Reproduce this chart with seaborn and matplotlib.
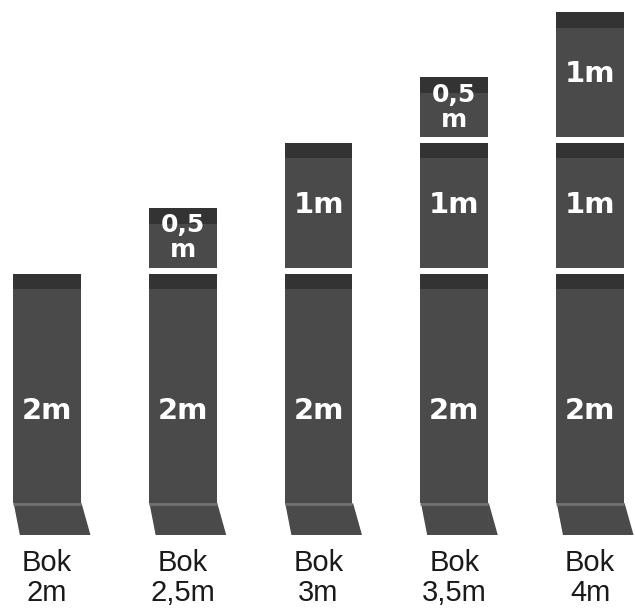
import matplotlib.pyplot as plt
import numpy as np
import seaborn as sns
from matplotlib.patches import Polygon

# --- data: panel stacks per column (metres) ---
labels = ["Bok\n2m", "Bok\n2,5m", "Bok\n3m", "Bok\n3,5m", "Bok\n4m"]
base_m = [2, 2, 2, 2, 2]
mid_m = [0, 0.5, 1, 1, 1]
top_m = [0, 0, 0, 0.5, 1]

BODY = "#4a4a4a"
BAND = "#333333"
GAP = 0.045
BAND_H = 0.12
WIDTH = 0.5
FOOT_H = 0.24


def seg_label(v):
    if v == 0.5:
        return "0,5\nm", 18
    return f"{v:g}m", 21


sns.set_theme(style="white")
plt.rcParams["font.family"] = ["Liberation Sans", "DejaVu Sans"]

fig = plt.figure(figsize=(6.35, 6.09), dpi=100)
ax = fig.add_axes([0, 74 / 609, 1, 523 / 609])

# base 2m panels through seaborn, upper panels stacked on top
sns.barplot(x=labels, y=base_m, color=BODY, saturation=1, width=WIDTH, ax=ax,
            linewidth=0, zorder=2)
x = np.arange(len(labels))
bottom = np.array(base_m, dtype=float)
for layer in (mid_m, top_m):
    vals = np.array(layer, dtype=float)
    mask = vals > 0
    ax.bar(x[mask], vals[mask] - GAP, bottom=bottom[mask] + GAP, width=WIDTH,
           color=BODY, linewidth=0, zorder=2)
    bottom = bottom + vals

# dark strip at the top of every panel + labels
for i in range(len(labels)):
    cum = 0.0
    for j, v in enumerate([base_m[i], mid_m[i], top_m[i]]):
        if v <= 0:
            continue
        lo = cum + (GAP if j > 0 else 0)
        hi = cum + v
        ax.bar(x[i], BAND_H, bottom=hi - BAND_H, width=WIDTH, color=BAND,
               linewidth=0, zorder=3)
        txt, fs = seg_label(v)
        ax.text(x[i], (lo + hi) / 2 - (0.0 if j else 0.05), txt, ha="center", va="center",
                color="white", fontsize=fs, fontweight="bold", family="DejaVu Sans",
                linespacing=1.05, zorder=4)
        cum += v

    # slanted foot of the base panel
    x0, x1 = x[i] - WIDTH / 2, x[i] + WIDTH / 2
    ax.add_patch(Polygon([(x0 - 0.02, 0), (x0 - 0.02, FOOT_H), (x0, FOOT_H), (x0 + 0.045, 0)],
                         closed=True, color="white", zorder=3))
    ax.add_patch(Polygon([(x1, FOOT_H), (x1 + 0.065, 0), (x1, 0)],
                         closed=True, color=BODY, zorder=3))
    ax.hlines(FOOT_H, x0, x1, color="#727272", lw=2, zorder=3)

ax.set_xlim(-0.346, 4.331)
ax.set_ylim(0, 4)
ax.set_yticks([])
ax.set_xlabel("")
ax.set_ylabel("")
ax.tick_params(axis="x", length=0, pad=10, labelsize=21, colors="#1a1a1a")
for t in ax.get_xticklabels():
    t.set_linespacing(1.1)
sns.despine(ax=ax, left=True, bottom=True)

fig.savefig("out.png", dpi=100)
